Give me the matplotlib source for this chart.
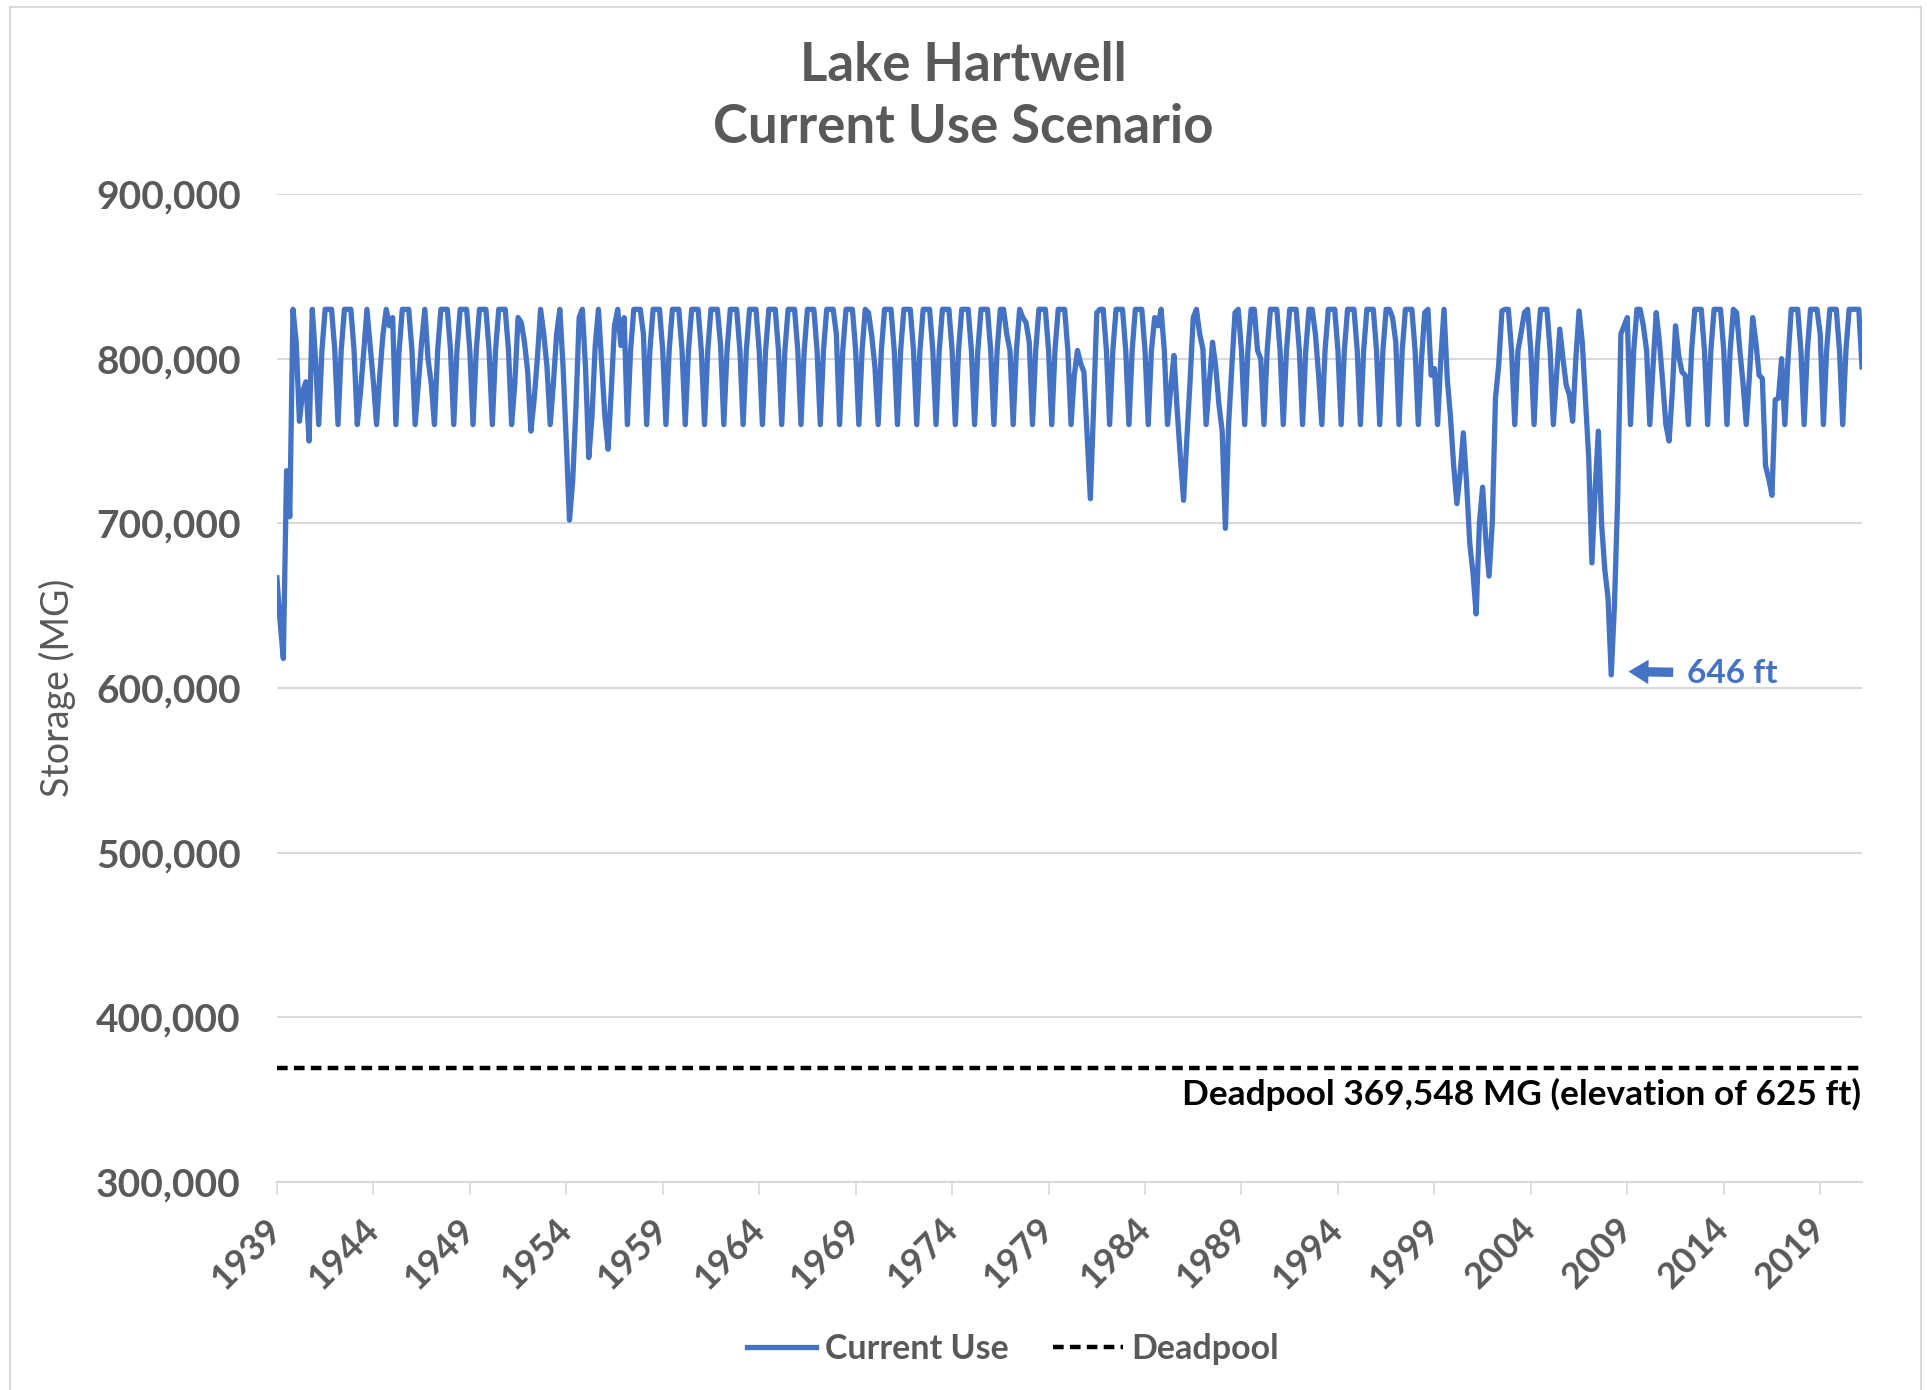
import matplotlib.pyplot as plt
from matplotlib.patches import Rectangle
from matplotlib.ticker import FuncFormatter

plt.rcParams['font.family'] = ['Lato', 'DejaVu Sans']

# storage, thousand MG, one row per year, read every two months (Jan, Mar, May, Jul, Sep, Nov)
years = list(range(1939, 2022))
sample_months = [0, 2, 4, 6, 8, 10]
storage = [
    [667, 640, 618, 732, 704, 830],  # 1939
    [810, 762, 780, 786, 750, 830],
    [800, 760, 805, 830, 830, 830],
    [805, 760, 805, 830, 830, 830],
    [805, 760, 780, 804, 830, 808],
    [786, 760, 790, 815, 830, 820],
    [825, 760, 805, 830, 830, 830],
    [805, 760, 785, 810, 830, 800],
    [785, 760, 805, 830, 830, 830],
    [805, 760, 805, 830, 830, 830],
    [805, 760, 805, 830, 830, 830],  # 1949
    [805, 760, 805, 830, 830, 830],
    [806, 760, 785, 825, 822, 810],
    [792, 756, 775, 800, 830, 815],
    [795, 760, 785, 815, 830, 795],
    [750, 702, 726, 770, 825, 830],
    [794, 740, 765, 808, 830, 798],
    [765, 745, 781, 820, 830, 808],
    [825, 760, 805, 830, 830, 830],
    [815, 760, 805, 830, 830, 830],
    [805, 760, 805, 830, 830, 830],  # 1959
    [805, 760, 805, 830, 830, 830],
    [805, 760, 805, 830, 830, 830],
    [808, 760, 805, 830, 830, 830],
    [805, 760, 805, 830, 830, 830],
    [805, 760, 805, 830, 830, 830],
    [805, 760, 805, 830, 830, 830],
    [805, 760, 805, 830, 830, 830],
    [805, 760, 805, 830, 830, 830],
    [815, 760, 805, 830, 830, 830],
    [805, 760, 805, 830, 828, 814],  # 1969
    [795, 760, 805, 830, 830, 830],
    [805, 760, 805, 830, 830, 830],
    [805, 760, 805, 830, 830, 830],
    [805, 760, 805, 830, 830, 830],
    [805, 760, 805, 830, 830, 830],
    [805, 760, 805, 830, 830, 830],
    [805, 760, 805, 830, 830, 815],
    [805, 760, 805, 830, 825, 822],
    [810, 760, 805, 830, 830, 830],
    [805, 760, 805, 830, 830, 830],  # 1979
    [805, 760, 790, 805, 797, 792],
    [753, 715, 770, 828, 830, 830],
    [805, 760, 805, 830, 830, 830],
    [805, 760, 805, 830, 830, 830],
    [805, 760, 805, 825, 820, 830],
    [805, 760, 782, 802, 769, 740],
    [714, 751, 786, 825, 830, 815],
    [806, 760, 785, 810, 795, 772],
    [756, 697, 760, 795, 828, 830],
    [805, 760, 805, 830, 830, 805],  # 1989
    [800, 760, 805, 830, 830, 830],
    [805, 760, 805, 830, 830, 830],
    [805, 760, 805, 830, 830, 815],
    [790, 760, 805, 830, 830, 830],
    [805, 760, 805, 830, 830, 830],
    [805, 760, 805, 830, 830, 830],
    [805, 760, 805, 830, 830, 825],
    [810, 760, 805, 830, 830, 830],
    [805, 760, 800, 828, 830, 790],
    [794, 760, 800, 830, 788, 765],  # 1999
    [735, 712, 730, 755, 725, 688],
    [670, 645, 700, 722, 690, 668],
    [700, 776, 796, 829, 830, 830],
    [805, 760, 805, 816, 828, 830],
    [805, 760, 805, 830, 830, 830],
    [805, 760, 790, 818, 800, 784],
    [778, 762, 800, 829, 810, 775],
    [740, 676, 720, 756, 700, 672],
    [655, 608, 650, 715, 815, 820],
    [825, 760, 805, 830, 830, 820],  # 2009
    [805, 760, 795, 828, 810, 786],
    [760, 750, 780, 820, 802, 792],
    [790, 760, 805, 830, 830, 830],
    [805, 760, 805, 830, 830, 830],
    [805, 760, 805, 830, 828, 805],
    [785, 760, 790, 825, 810, 790],
    [788, 735, 727, 717, 775, 776],
    [800, 760, 800, 830, 830, 830],
    [805, 760, 805, 830, 830, 830],
    [815, 760, 805, 830, 830, 830],  # 2019
    [805, 760, 805, 830, 830, 830],
    [830, 795],
]
deadpool = 369548
tick_years = list(range(1939, 2020, 5))

gray = '#595959'
blue = '#4472C4'

x, y = [], []
for yr, row in zip(years, storage):
    for m, v in zip(sample_months, row):
        x.append(yr + m / 12)
        y.append(v * 1000)

fig = plt.figure(figsize=(19.27, 13.90), dpi=100)
ax = fig.add_axes([0.1437, 0.1496, 0.8226, 0.7108])

ax.plot(x, y, color=blue, lw=3.8, solid_joinstyle='round', label='Current Use', zorder=3)
ax.axhline(deadpool, color='black', lw=3.2, dashes=(2.4, 1.4), label='Deadpool', zorder=2)

ax.set_xlim(1939, 2021.17)
ax.set_ylim(300000, 900000)
ax.set_yticks(range(300000, 900001, 100000))
ax.yaxis.set_major_formatter(FuncFormatter(lambda v, p: f'{int(v):,}'))
ax.set_xticks(tick_years)
ax.set_xticklabels([str(t) for t in tick_years], rotation=45, ha='right',
                   va='center', rotation_mode='anchor')

ax.grid(axis='y', color='#D9D9D9', lw=1.5)
ax.set_axisbelow(True)
for s in ['top', 'right', 'left']:
    ax.spines[s].set_visible(False)
ax.spines['bottom'].set_color('#D9D9D9')
ax.spines['bottom'].set_linewidth(1.5)
ax.tick_params(axis='y', length=0, pad=26, labelsize=28, labelcolor=gray)
ax.tick_params(axis='x', length=9, width=1.2, color='#D9D9D9', pad=21,
               labelsize=26, labelcolor=gray)
for lab in ax.get_xticklabels() + ax.get_yticklabels():
    lab.set_fontweight('bold')

ax.text(2021.09, 353500, 'Deadpool 369,548 MG (elevation of 625 ft)', ha='right',
        va='center', fontsize=25.4, fontweight='bold', color='black')

ax.annotate('646 ft', xy=(2009.06, 610000), xytext=(2012.1, 609000),
            ha='left', va='center', fontsize=24, fontweight='bold', color=blue,
            arrowprops=dict(arrowstyle='simple,head_length=0.9,head_width=1.1,tail_width=0.42',
                            mutation_scale=16, fc=blue, ec='none', shrinkA=8, shrinkB=0))

fig.text(0.5, 0.953, 'Lake Hartwell', ha='center', va='center', fontsize=38,
         fontweight='bold', color=gray)
fig.text(0.5, 0.908, 'Current Use Scenario', ha='center', va='center', fontsize=38,
         fontweight='bold', color=gray)
fig.text(0.0296, 0.505, 'Storage (MG)', rotation=90, ha='center', va='center',
         fontsize=27, color=gray)

leg = fig.legend(loc='center', bbox_to_anchor=(0.5255, 0.0295), ncol=2, frameon=False,
                 fontsize=24.5, handlelength=2.05, handletextpad=0.25, columnspacing=1.3)
for t in leg.get_texts():
    t.set_color(gray)
    t.set_fontweight('bold')

fig.add_artist(Rectangle((0.0052, -0.01), 0.9917, 1.005, transform=fig.transFigure,
                         fill=False, ec='#D9D9D9', lw=1.5))

fig.savefig('out.png', dpi=100)
